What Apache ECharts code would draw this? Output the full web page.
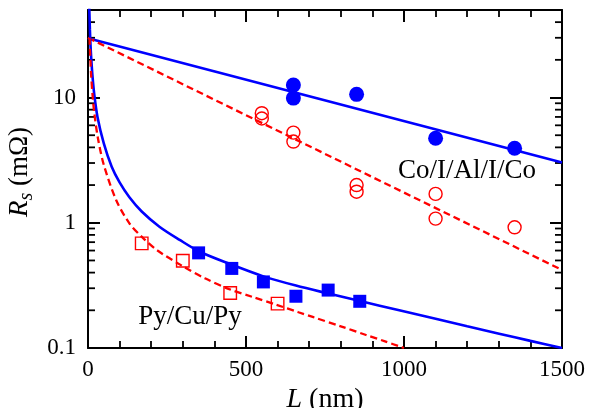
<!DOCTYPE html>
<html>
<head>
<meta charset="utf-8">
<script src="https://cdn.jsdelivr.net/npm/echarts@6/dist/echarts.min.js"></script>
<style>html,body{margin:0;padding:0;background:#fff;}#c{width:612px;height:408px;}</style>
</head>
<body>
<div id="c"></div>
<script>
// ---- data ----
const coFilledL = [650, 650, 850, 1100, 1350];
const coFilledR = [12.6, 9.9, 10.6, 4.73, 3.94];
const coOpenL = [550, 550, 650, 650, 850, 850, 1100, 1100, 1350];
const coOpenR = [7.5, 6.8, 5.25, 4.45, 2.0, 1.77, 1.70, 1.08, 0.92];
const pyFilledL = [350, 455, 555, 658, 760, 860];
const pyFilledR = [0.575, 0.432, 0.337, 0.259, 0.29, 0.236];
const pyOpenL = [170, 300, 450, 600];
const pyOpenR = [0.684, 0.497, 0.275, 0.226];

const coFitL = [0, 1500];
const coFitBlueR = [29.7, 3.03];
const coFitRedR = [30, 0.42];

const pyFitBlueL = [4, 6, 8, 10, 14, 20, 30, 50, 75, 100, 131, 170, 226, 290, 352, 448, 553, 658, 761, 861, 985, 1100, 1200, 1301, 1400, 1500];
const pyFitBlueR = [52, 35, 26, 21, 15, 10.5, 7, 4.3, 2.8, 2.1, 1.6, 1.23, 0.93, 0.73, 0.59, 0.47, 0.375, 0.315, 0.272, 0.237, 0.2, 0.171, 0.149, 0.13, 0.114, 0.1];
const pyFitRedL = [5, 6, 8, 10, 15, 20, 31, 50, 89, 131, 173, 220, 300, 370, 447, 520, 595, 666, 711, 800, 880, 940, 1000];
const pyFitRedR = [30, 25, 19, 15, 10, 7.5, 4.8, 2.9, 1.52, 0.99, 0.76, 0.6, 0.45, 0.36, 0.295, 0.256, 0.222, 0.193, 0.177, 0.149, 0.127, 0.113, 0.1];

const xTickLabels = ['0', '500', '1000', '1500'];
const yTickLabels = ['0.1', '1', '10'];
const yMinorTicks = [0.2,0.3,0.4,0.5,0.6,0.7,0.8,0.9,2,3,4,5,6,7,8,9,20,30,40];

const labelCo = 'Co/I/Al/I/Co';
const labelPy = 'Py/Cu/Py';

// ---- chart ----
const zip = (a, b) => a.map((v, i) => [v, b[i]]);
const FONT = "'Liberation Serif', 'Times New Roman', serif";
const BLUE = '#0000ff', RED = '#ff0000';

const chart = echarts.init(document.getElementById('c'), null, {renderer: 'canvas'});

const isPow10 = v => Math.abs(Math.log10(v) - Math.round(Math.log10(v))) < 1e-6;

const xCommon = {
  type: 'value', min: 0, max: 1500, interval: 500,
  axisLine: {show: true, onZero: false, lineStyle: {color: '#000', width: 2}},
  axisTick: {show: true, inside: true, length: 12, lineStyle: {color: '#000', width: 2}},
  minorTick: {show: true, splitNumber: 5, length: 7, lineStyle: {color: '#000', width: 1.8}},
  splitLine: {show: false}, minorSplitLine: {show: false}
};
const yCommon = {
  type: 'log', logBase: 10, min: 0.1, max: 50,
  axisLine: {show: true, onZero: false, lineStyle: {color: '#000', width: 2}},
  axisTick: {show: true, inside: true, length: 12, lineStyle: {color: '#000', width: 2}},
  minorTick: {show: false},
  splitLine: {show: false}, minorSplitLine: {show: false}
};

const option = {
  backgroundColor: '#fff',
  animation: false,
  grid: {left: 88, right: 50, top: 10, bottom: 60, containLabel: false, outerBoundsMode: 'none'},
  xAxis: [
    Object.assign({}, xCommon, {
      position: 'bottom',
      axisLabel: {show: true, margin: 10, color: '#000', fontFamily: FONT, fontSize: 23,
        formatter: v => { const s = String(v); return xTickLabels.indexOf(s) >= 0 ? s : ''; }},
      name: '{i|L} (nm)', nameLocation: 'middle', nameGap: 29,
      nameTextStyle: {color: '#000', fontFamily: FONT, fontSize: 28,
        rich: {i: {fontFamily: FONT, fontSize: 28, fontStyle: 'italic', color: '#000'}}}
    }),
    Object.assign({}, xCommon, {position: 'top', axisLabel: {show: false}})
  ],
  yAxis: [
    Object.assign({}, yCommon, {
      position: 'left',
      axisLabel: {show: true, margin: 12, color: '#000', fontFamily: FONT, fontSize: 23,
        formatter: v => { if (!isPow10(v)) return ''; const s = String(+v.toPrecision(6)); return yTickLabels.indexOf(s) >= 0 ? s : ''; }},
      name: '{i|R}{s|s} (mΩ)', nameLocation: 'middle', nameRotate: 90, nameGap: 40,
      nameTextStyle: {color: '#000', fontFamily: FONT, fontSize: 27, padding: [0, 0, 0, 14],
        rich: {
          i: {fontFamily: FONT, fontSize: 27, fontStyle: 'italic', color: '#000'},
          s: {fontFamily: FONT, fontSize: 20, fontStyle: 'italic', color: '#000', padding: [13, 0, 0, 0]}
        }}
    }),
    Object.assign({}, yCommon, {position: 'right', axisLabel: {show: false}})
  ],
  graphic: [
    {type: 'text', x: 467, y: 171, silent: true,
      style: {text: labelCo, font: '27px ' + FONT, fill: '#000', align: 'center', verticalAlign: 'middle'}},
    {type: 'text', x: 190, y: 317, silent: true,
      style: {text: labelPy, font: '27px ' + FONT, fill: '#000', align: 'center', verticalAlign: 'middle'}}
  ],
  series: [
    {type: 'custom', xAxisIndex: 0, yAxisIndex: 0, silent: true, z: 1,
      data: yMinorTicks.map(v => [0, v]),
      renderItem: function (params, api) {
        const v = api.value(1);
        const p0 = api.coord([0, v]);
        const p1 = api.coord([1500, v]);
        return {type: 'group', children: [
          {type: 'line', shape: {x1: p0[0], y1: p0[1], x2: p0[0] + 7, y2: p0[1]}, style: {stroke: '#000', lineWidth: 1.8}},
          {type: 'line', shape: {x1: p1[0], y1: p1[1], x2: p1[0] - 7, y2: p1[1]}, style: {stroke: '#000', lineWidth: 1.8}}
        ]};
      }},
    {name: 'coFitBlue', type: 'line', data: zip(coFitL, coFitBlueR), showSymbol: false, symbol: 'none',
      lineStyle: {color: BLUE, width: 2.6}, z: 2},
    {name: 'coFitRed', type: 'line', data: zip(coFitL, coFitRedR), showSymbol: false, symbol: 'none',
      lineStyle: {color: RED, width: 2.3, type: [7, 4]}, z: 2},
    {name: 'pyFitBlue', type: 'line', data: zip(pyFitBlueL, pyFitBlueR), showSymbol: false, symbol: 'none',
      smooth: 0.3, clip: true,
      lineStyle: {color: BLUE, width: 2.6}, z: 2},
    {name: 'pyFitRed', type: 'line', data: zip(pyFitRedL, pyFitRedR), showSymbol: false, symbol: 'none',
      smooth: 0.3, clip: true,
      lineStyle: {color: RED, width: 2.3, type: [7, 4]}, z: 2},
    {name: 'coFilled', type: 'scatter', data: zip(coFilledL, coFilledR), symbol: 'circle', symbolSize: 15,
      itemStyle: {color: BLUE, opacity: 1}, z: 3},
    {name: 'coOpen', type: 'scatter', data: zip(coOpenL, coOpenR), symbol: 'circle', symbolSize: 13,
      itemStyle: {color: 'none', borderColor: RED, borderWidth: 1.4, opacity: 1}, z: 3},
    {name: 'pyFilled', type: 'scatter', data: zip(pyFilledL, pyFilledR), symbol: 'rect', symbolSize: 13,
      itemStyle: {color: BLUE, opacity: 1}, z: 3},
    {name: 'pyOpen', type: 'scatter', data: zip(pyOpenL, pyOpenR), symbol: 'rect', symbolSize: 12.5,
      itemStyle: {color: 'none', borderColor: RED, borderWidth: 1.4, opacity: 1}, z: 3}
  ]
};
chart.setOption(option);
</script>
</body>
</html>
